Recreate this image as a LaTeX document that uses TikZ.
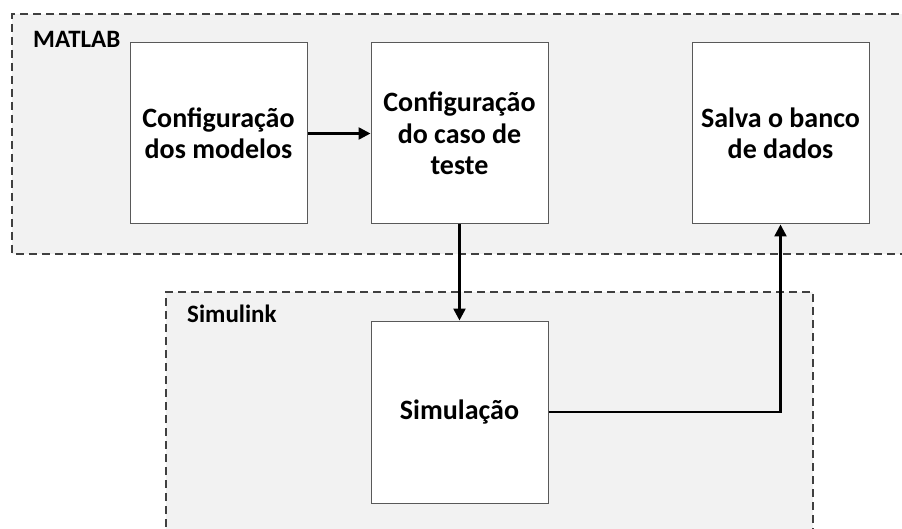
\documentclass[tikz,border=0pt]{standalone}
\usepackage{fontspec}
\setmainfont{Carlito}
\usetikzlibrary{arrows.meta}
\definecolor{grpfill}{HTML}{F2F2F2}
\definecolor{grpline}{HTML}{404040}
\definecolor{boxline}{HTML}{595959}
\begin{document}
\begin{tikzpicture}[x=1pt,y=-1pt,
  grpedge/.style={draw=grpline,dash pattern=on 8pt off 5pt,line width=1.2pt},
  block/.style={draw=boxline,fill=white,line width=1pt,minimum width=177pt,minimum height=181pt,
    align=center,inner sep=0pt,font=\fontsize{28}{31.5}\selectfont\bfseries},
  grplabel/.style={anchor=base west,inner sep=0pt,font=\fontsize{25}{30}\selectfont\bfseries},
  flow/.style={line width=2.5pt,-{Triangle[width=12pt,length=12pt]}}]
\useasboundingbox (0,0) rectangle (902,529);
\clip (0,0) rectangle (902,529);
\path[fill=grpfill] (12,14) rectangle (912,254);
\draw[grpedge] (912,14) -- (12,14) -- (12,254) -- (912,254);
\node[grplabel] (matlab) at (33,48) {MATLAB};
\path[fill=grpfill] (166,292) rectangle (813,540);
\draw[grpedge] (166,540) -- (166,292) -- (813,292) -- (813,540);
\node[grplabel] (simulink) at (187,323) {Simulink};
\node[block] (cfgmod) at (218.5,133.5) {Configuração\\dos modelos};
\node[block] (cfgcase) at (459.5,133.5) {Configuração\\do caso de\\teste};
\node[block] (save) at (780.5,133.5) {Salva o banco\\de dados};
\node[block,minimum height=182pt] (sim) at (459.5,412) {Simulação};
\draw[flow] (cfgmod.east) -- (cfgcase.west);
\draw[flow] (cfgcase.south) -- (sim.north);
\draw[flow] (sim.east) -| (save.south);
\end{tikzpicture}
\end{document}
